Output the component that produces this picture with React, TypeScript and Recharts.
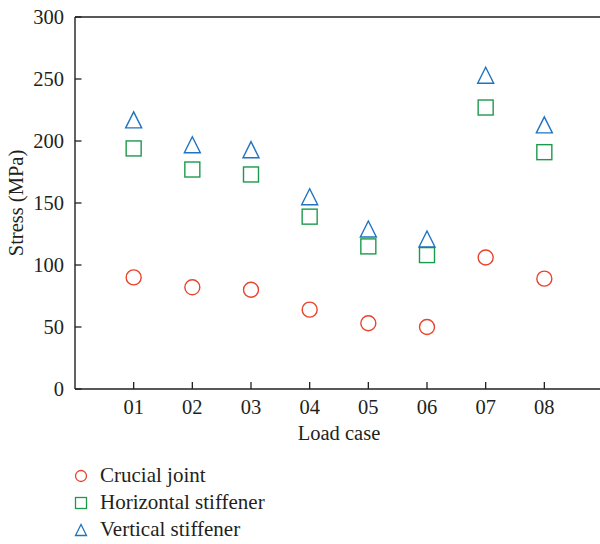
import React from 'react'
import {
  ScatterChart,
  Scatter,
  XAxis,
  YAxis,
  ReferenceLine,
} from 'recharts'

// Load cases and stress readings (MPa)
const LOAD_CASES = ['01', '02', '03', '04', '05', '06', '07', '08']
const CRUCIAL_JOINT = [90, 82, 80, 64, 53, 50, 106, 89]
const HORIZONTAL_STIFFENER = [194, 177, 173, 139, 115, 108, 227, 191]
const VERTICAL_STIFFENER = [217, 197, 193, 155, 129, 121, 253, 213]
const Y_TICKS = [0, 50, 100, 150, 200, 250, 300]

const FONT = '"Liberation Serif", "Times New Roman", serif'
const AXIS_FONT_SIZE = 20.5
const INK = '#231f20'
const RED = '#e8432d'
const GREEN = '#1c9a4c'
const BLUE = '#1f73c0'

const toPoints = (values: number[]) =>
  values.map((v, i) => ({ x: i + 1, y: v }))

const circleShape = (r: number) => (props: any) => (
  <circle cx={props.cx} cy={props.cy} r={r} fill='none' stroke={RED} strokeWidth={1.4} />
)

const squareShape = (s: number) => (props: any) => (
  <rect
    x={props.cx - s / 2}
    y={props.cy - s / 2}
    width={s}
    height={s}
    fill='none'
    stroke={GREEN}
    strokeWidth={1.4}
  />
)

const triangleShape = (s: number) => (props: any) => {
  const { cx, cy } = props
  const h = s / 2
  return (
    <polygon
      points={`${cx},${cy - h} ${cx - h},${cy + h} ${cx + h},${cy + h}`}
      fill='none'
      stroke={BLUE}
      strokeWidth={1.4}
    />
  )
}

// inward tick marks with labels outside the frame
const XTick = (props: any) => {
  const { x, y, payload } = props
  return (
    <g>
      <line x1={x} y1={y} x2={x} y2={y - 7} stroke={INK} strokeWidth={1.3} />
      <text x={x} y={y + 25} textAnchor='middle' fill={INK} fontSize={AXIS_FONT_SIZE} fontFamily={FONT}>
        {LOAD_CASES[payload.value - 1]}
      </text>
    </g>
  )
}

const YTick = (props: any) => {
  const { x, y, payload } = props
  return (
    <g>
      <line x1={x} y1={y} x2={x + 6.5} y2={y} stroke={INK} strokeWidth={1.3} />
      <text x={x - 11} y={y + 7} textAnchor='end' fill={INK} fontSize={AXIS_FONT_SIZE} fontFamily={FONT}>
        {payload.value}
      </text>
    </g>
  )
}

const legendItems = [
  { label: 'Crucial joint', shape: 'circle' },
  { label: 'Horizontal stiffener', shape: 'square' },
  { label: 'Vertical stiffener', shape: 'triangle' },
]

function LegendMarker({ shape }: { shape: string }) {
  return (
    <svg width={14} height={14} style={{ display: 'block' }}>
      {shape === 'circle' && <circle cx={7} cy={7} r={5.5} fill='none' stroke={RED} strokeWidth={1.3} />}
      {shape === 'square' && <rect x={1.5} y={1.5} width={11} height={11} fill='none' stroke={GREEN} strokeWidth={1.3} />}
      {shape === 'triangle' && (
        <polygon points='7,1.5 1.5,12.5 12.5,12.5' fill='none' stroke={BLUE} strokeWidth={1.3} />
      )}
    </svg>
  )
}

export default function App() {
  return (
    <div
      style={{
        position: 'absolute',
        left: 0,
        top: 0,
        width: 600,
        height: 544,
        overflow: 'hidden',
        background: '#fff',
      }}
    >
      <ScatterChart
        width={604}
        height={544}
        margin={{ top: 17, right: 1, left: 0, bottom: 125 }}
      >
        <XAxis
          type='number'
          dataKey='x'
          domain={[0, 9]}
          ticks={[1, 2, 3, 4, 5, 6, 7, 8]}
          height={30}
          tickSize={0}
          tickMargin={0}
          tick={<XTick />}
          axisLine={{ stroke: INK, strokeWidth: 1.4 }}
          label={{
            value: 'Load case',
            position: 'insideBottom',
            offset: -21,
            fill: INK,
            fontSize: AXIS_FONT_SIZE,
            fontFamily: FONT,
          }}
        />
        <YAxis
          type='number'
          dataKey='y'
          domain={[0, 300]}
          ticks={Y_TICKS}
          width={75}
          tickSize={0}
          tickMargin={0}
          tick={<YTick />}
          axisLine={{ stroke: INK, strokeWidth: 1.4 }}
          label={{
            value: 'Stress (MPa)',
            angle: -90,
            position: 'insideLeft',
            offset: 16,
            style: { textAnchor: 'middle' },
            fill: INK,
            fontSize: AXIS_FONT_SIZE,
            fontFamily: FONT,
          }}
        />
        <ReferenceLine y={300} stroke={INK} strokeWidth={1.4} />
        <Scatter
          name='Crucial joint'
          data={toPoints(CRUCIAL_JOINT)}
          shape={circleShape(7.5)}
          isAnimationActive={false}
        />
        <Scatter
          name='Horizontal stiffener'
          data={toPoints(HORIZONTAL_STIFFENER)}
          shape={squareShape(15)}
          isAnimationActive={false}
        />
        <Scatter
          name='Vertical stiffener'
          data={toPoints(VERTICAL_STIFFENER)}
          shape={triangleShape(16)}
          isAnimationActive={false}
        />
      </ScatterChart>
      <div style={{ position: 'absolute', left: 74, top: 462, fontFamily: FONT, color: INK, fontSize: 21 }}>
        {legendItems.map(item => (
          <div key={item.label} style={{ display: 'flex', alignItems: 'center', height: 27, gap: 12 }}>
            <LegendMarker shape={item.shape} />
            <span>{item.label}</span>
          </div>
        ))}
      </div>
    </div>
  )
}
